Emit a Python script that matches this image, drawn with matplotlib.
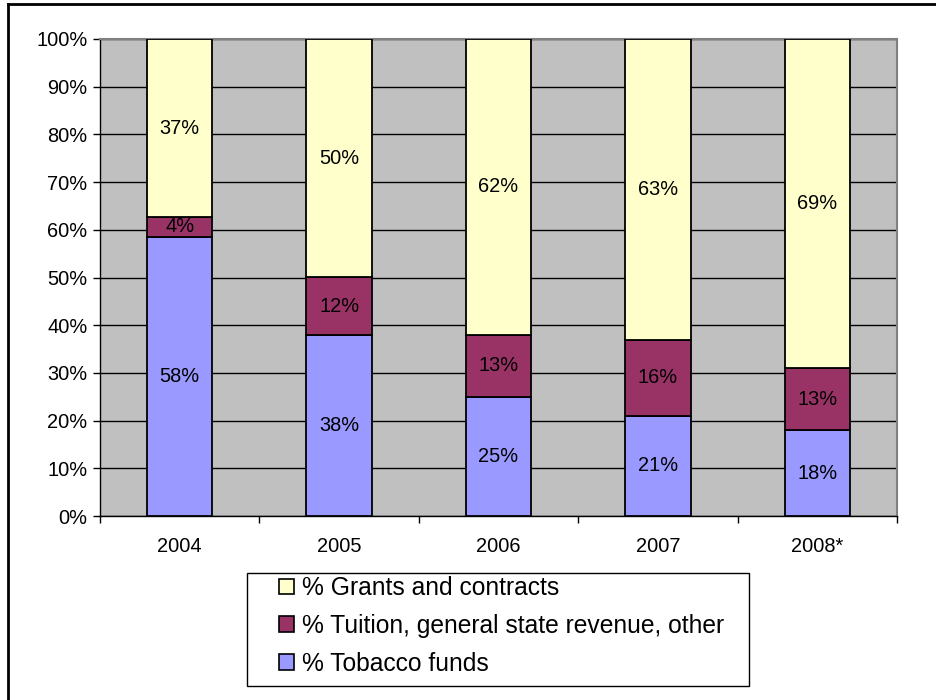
import matplotlib
matplotlib.use("Agg")
import matplotlib.pyplot as plt
from matplotlib.patches import Patch, Rectangle
from matplotlib.lines import Line2D
import numpy as np

plt.rcParams['font.family'] = ['Liberation Sans', 'DejaVu Sans']

years = ["2004", "2005", "2006", "2007", "2008*"]
tobacco = [58, 38, 25, 21, 18]
tuition = [4, 12, 13, 16, 13]
grants = [37, 50, 62, 63, 69]
y_ticks = [0, 10, 20, 30, 40, 50, 60, 70, 80, 90, 100]
series_names = ["% Grants and contracts",
                "% Tuition, general state revenue, other",
                "% Tobacco funds"]

c_tobacco = "#9999FF"
c_tuition = "#993366"
c_grants = "#FFFFCC"
c_plot_bg = "#C0C0C0"

W, H = 936, 700
fig = plt.figure(figsize=(W / 100, H / 100), dpi=100)

# outer chart frame (top and left edges)
fig.add_artist(Line2D([8 / W, 8 / W], [0, 1 - 4 / H], color="black", lw=2.0,
                      transform=fig.transFigure))
fig.add_artist(Line2D([8 / W, 1], [1 - 4 / H, 1 - 4 / H], color="black", lw=2.0,
                      transform=fig.transFigure))

ax = fig.add_axes([100 / W, 1 - 516 / H, 797 / W, 477 / H])
ax.set_facecolor(c_plot_bg)

# stack values as percent of each column total
tob = np.array(tobacco, float)
tui = np.array(tuition, float)
gra = np.array(grants, float)
tot = tob + tui + gra
tob_p, tui_p, gra_p = tob / tot * 100, tui / tot * 100, gra / tot * 100

x = np.arange(len(years))
bw = 0.41
kw = dict(width=bw, edgecolor="black", linewidth=1.3, zorder=3)
b1 = ax.bar(x, tob_p, color=c_tobacco, **kw)
b2 = ax.bar(x, tui_p, bottom=tob_p, color=c_tuition, **kw)
b3 = ax.bar(x, gra_p, bottom=tob_p + tui_p, color=c_grants, **kw)

fs = 14.4
for vals, bottoms, heights in [
        (tobacco, np.zeros(len(x)), tob_p),
        (tuition, tob_p, tui_p),
        (grants, tob_p + tui_p, gra_p)]:
    for xi, v, b, h in zip(x, vals, bottoms, heights):
        ax.text(xi, b + h / 2, f"{v}%", ha="center", va="center",
                fontsize=fs, color="black", zorder=4)

ax.set_xlim(-0.5, len(years) - 0.5)
ax.set_ylim(0, 100)
ax.set_yticks(y_ticks)
ax.set_yticklabels([f"{t}%" for t in y_ticks], fontsize=fs)
ax.yaxis.grid(True, color="black", linewidth=1.0, zorder=1)
ax.set_axisbelow(True)

ax.set_xticks(x)
ax.set_xticklabels(years, fontsize=fs)
ax.set_xticks(np.arange(-0.5, len(years)), minor=True)
ax.tick_params(axis="x", which="major", length=0, pad=15)
ax.tick_params(axis="x", which="minor", length=5, width=1, direction="out")
ax.tick_params(axis="y", length=5, width=1, direction="out", pad=4)

for s in ["left", "bottom"]:
    ax.spines[s].set_color("black")
    ax.spines[s].set_linewidth(1.0)
for s in ["right", "top"]:
    ax.spines[s].set_color("#808080")
    ax.spines[s].set_linewidth(1.5)

# legend box below the plot
fig.add_artist(Rectangle((247 / W, 1 - 686 / H), 502 / W, 113 / H,
                         transform=fig.transFigure, facecolor="white",
                         edgecolor="black", linewidth=1.0))
handles = [Patch(facecolor=c_grants, edgecolor="black", linewidth=1.2),
           Patch(facecolor=c_tuition, edgecolor="black", linewidth=1.2),
           Patch(facecolor=c_tobacco, edgecolor="black", linewidth=1.2)]
lfs = 17.7
leg = fig.legend(handles, series_names, loc="center left",
                 bbox_to_anchor=(279 / W, 1 - 626 / H),
                 fontsize=lfs, frameon=False,
                 handlelength=0.61, handleheight=0.61, handletextpad=0.33,
                 labelspacing=0.56, borderpad=0, borderaxespad=0)

fig.savefig("out.png", dpi=100)
